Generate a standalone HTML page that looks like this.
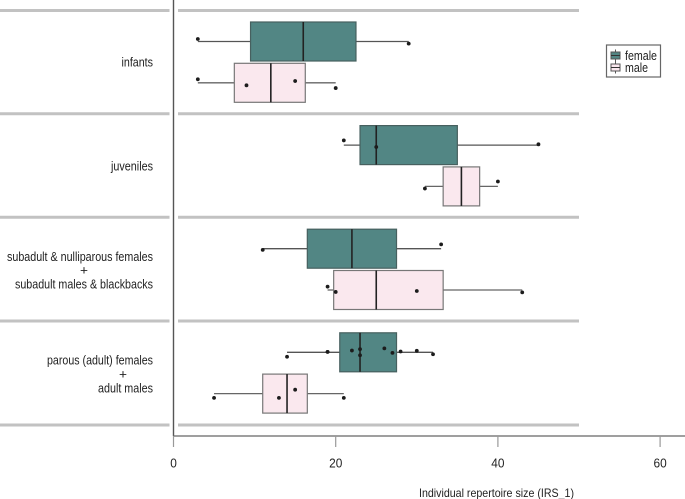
<!DOCTYPE html>
<html>
<head>
<meta charset="utf-8">
<style>
html,body{margin:0;padding:0;background:#fff;}
svg{display:block;}
text{font-family:"Liberation Sans",sans-serif;fill:#222;}
</style>
</head>
<body>
<svg id="chart" width="685" height="499" viewBox="0 0 685 499" xmlns="http://www.w3.org/2000/svg"></svg>
<script>
var categoryLabels = [
  ["infants"],
  ["juveniles"],
  ["subadult & nulliparous females", "+", "subadult males & blackbacks"],
  ["parous (adult) females", "+", "adult males"]
];
var categoryKeys = ["infants", "juveniles", "subadult", "adult"];
var xTicks = [0, 20, 40, 60];

var lowFemale = [3, 21, 11, 14];
var q1Female = [9.5, 23, 16.5, 20.5];
var medianFemale = [16, 25, 22, 23];
var q3Female = [22.5, 35, 27.5, 27.5];
var highFemale = [29, 45, 33, 32];

var lowMale = [3, 31, 19, 5];
var q1Male = [7.5, 33.25, 19.75, 11];
var medianMale = [12, 35.5, 25, 14];
var q3Male = [16.25, 37.75, 33.25, 16.5];
var highMale = [20, 40, 43, 21];

var pointsFemale = [
  [3, 29],
  [21, 25, 45],
  [11, 33],
  [14, 19, 19, 22, 23, 23, 26, 27, 28, 30, 32]
];
var jitterFemale = [
  [-0.065, 0.055],
  [-0.12, 0.05, -0.02],
  [0.03, -0.11],
  [0.115, -0.01, -0.01, -0.045, -0.08, 0.075, -0.1, 0.015, -0.02, -0.04, 0.05]
];
var pointsMale = [
  [3, 9, 15, 20],
  [31, 40],
  [19, 20, 30, 43],
  [5, 13, 15, 21]
];
var jitterMale = [
  [-0.09, 0.065, -0.045, 0.135],
  [0.055, -0.125],
  [-0.085, 0.05, 0.025, 0.06],
  [0.11, 0.11, -0.1, 0.11]
];

var svg = document.getElementById("chart");
var NS = "http://www.w3.org/2000/svg";

function xScale(v) { return 173.5 + v * 8.11; }
function rowY(group, row) { return 41.5 + group * 103.6 + row * 41.3; }
var BOX_H = 39;

function make(tag, attrs, parent) {
  var el = document.createElementNS(NS, tag);
  for (var k in attrs) el.setAttribute(k, attrs[k]);
  (parent || svg).appendChild(el);
  return el;
}

/* group separators */
var sepYs = [10.5, 113.7, 217.2, 321, 425];
sepYs.forEach(function (y, i) {
  var a = make("line", {x1: 0, x2: 169.5, y1: y, y2: y, stroke: "#c2c2c2", "stroke-width": 3});
  
  
  var b = make("line", {x1: 178, x2: 579, y1: y, y2: y, stroke: "#c2c2c2", "stroke-width": 3});
  
  
});

/* axes */
var yAxis = make("line", {x1: 173.5, x2: 173.5, y1: 0, y2: 436, stroke: "#555", "stroke-width": 1.4});


var xAxis = make("line", {x1: 173, x2: 685, y1: 436, y2: 436, stroke: "#666", "stroke-width": 1.3});



xTicks.forEach(function (t) {
  var tick = make("line", {x1: xScale(t), x2: xScale(t), y1: 436, y2: 447, stroke: "#999", "stroke-width": 1.2});
  
  
  var lab = make("text", {x: xScale(t), y: 467.5, "text-anchor": "middle", "font-size": 13, textLength: String(t).length * 6.6, lengthAdjust: "spacingAndGlyphs"});
  lab.textContent = t;
  
  
});

var xTitle = make("text", {x: 496.5, y: 497, "text-anchor": "middle", "font-size": 12, textLength: 155, lengthAdjust: "spacingAndGlyphs"});
xTitle.textContent = "Individual repertoire size (IRS_1)";



/* category labels */
var labelYs = [[66.5], [170.5], [261, 274.5, 288.5], [364.5, 378.5, 392.5]];
var labelWidths = [[31.5], [42], [146, 8, 138], [106, 8, 55]];
var plusX = [0, 0, 84, 123];
categoryLabels.forEach(function (lines, g) {
  lines.forEach(function (line, i) {
    var isPlus = line === "+";
    var t = make("text", {
      x: isPlus ? plusX[g] : 153,
      y: labelYs[g][i],
      "text-anchor": isPlus ? "middle" : "end",
      "font-size": 12.5,
      textLength: labelWidths[g][i],
      lengthAdjust: "spacingAndGlyphs"
    });
    t.textContent = line;
    
    
  });
});

function drawBox(g, row, low, q1, med, q3, high, fill, edge, whisk) {
  var cy = rowY(g, row);
  var w1 = make("line", {x1: xScale(low), x2: xScale(q1), y1: cy, y2: cy, stroke: whisk, "stroke-width": 1.3});
  
  
  var w2 = make("line", {x1: xScale(q3), x2: xScale(high), y1: cy, y2: cy, stroke: whisk, "stroke-width": 1.3});
  
  
  var r = make("rect", {
    x: xScale(q1), y: cy - BOX_H / 2,
    width: xScale(q3) - xScale(q1), height: BOX_H,
    fill: fill, stroke: edge, "stroke-width": 1.2
  });
  
  
  var m = make("line", {x1: xScale(med), x2: xScale(med), y1: cy - BOX_H / 2, y2: cy + BOX_H / 2, stroke: "#222", "stroke-width": 1.6});
  
  
}

function drawPoints(g, row, vals, jit) {
  var cy = rowY(g, row);
  vals.forEach(function (v, i) {
    var c = make("circle", {cx: xScale(v), cy: cy + jit[i] * BOX_H, r: 1.9, fill: "#1c1c1c"});
    
    
  });
}

categoryKeys.forEach(function (k, g) {
  drawBox(g, 0, lowFemale[g], q1Female[g], medianFemale[g], q3Female[g], highFemale[g], "#528684", "#47605f", "#555");
  drawBox(g, 1, lowMale[g], q1Male[g], medianMale[g], q3Male[g], highMale[g], "#fae8ee", "#777", "#666");
  drawPoints(g, 0, pointsFemale[g], jitterFemale[g]);
  drawPoints(g, 1, pointsMale[g], jitterMale[g]);
});

/* legend */
var legend = make("g", {});


var frame = make("rect", {x: 606.5, y: 45, width: 54, height: 32, fill: "#fff", stroke: "#666", "stroke-width": 1.2}, legend);



function legendEntry(y, fill, label, w) {
  var s1 = make("line", {x1: 615.5, x2: 615.5, y1: y - 6, y2: y + 6, stroke: "#555", "stroke-width": 1}, legend);
  
  
  var s2 = make("rect", {x: 611, y: y - 3.5, width: 9, height: 7, fill: fill, stroke: "#555", "stroke-width": 1}, legend);
  
  
  var s3 = make("line", {x1: 611, x2: 620, y1: y, y2: y, stroke: "#333", "stroke-width": 1}, legend);
  
  
  var t = make("text", {x: 625, y: y + 4.5, "font-size": 12.5, textLength: w, lengthAdjust: "spacingAndGlyphs"}, legend);
  t.textContent = label;
  
  
}
legendEntry(55.5, "#528684", "female", 32);
legendEntry(67.5, "#fae8ee", "male", 23);
</script>
</body>
</html>
